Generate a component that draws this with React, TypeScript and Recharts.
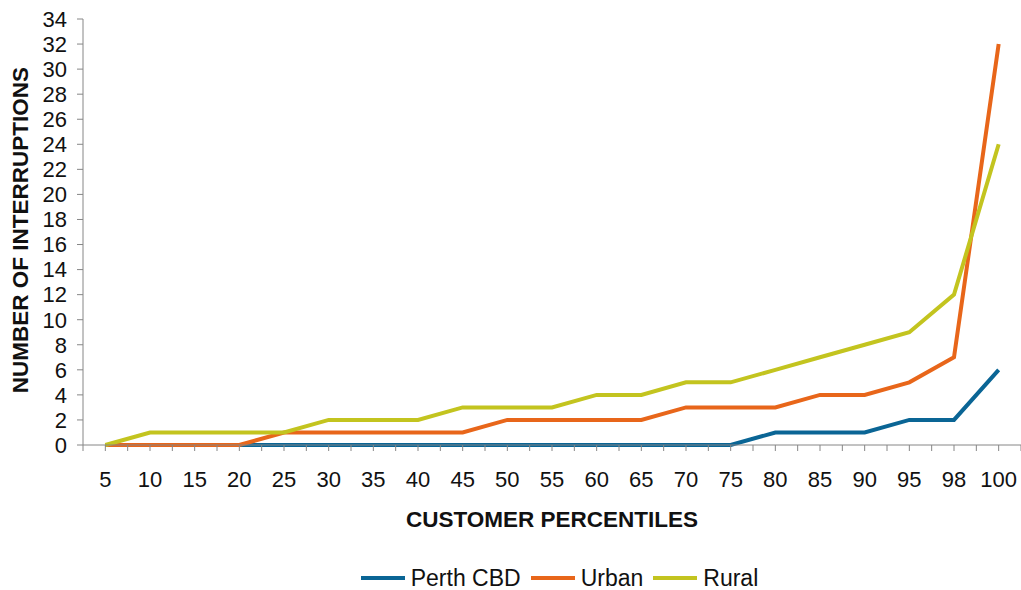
import { LineChart, Line, XAxis, YAxis, Legend } from 'recharts';

const percentiles = ['5', '10', '15', '20', '25', '30', '35', '40', '45', '50', '55', '60', '65', '70', '75', '80', '85', '90', '95', '98', '100'];
const perthCbd = [0, 0, 0, 0, 0, 0, 0, 0, 0, 0, 0, 0, 0, 0, 0, 1, 1, 1, 2, 2, 6];
const urban = [0, 0, 0, 0, 1, 1, 1, 1, 1, 2, 2, 2, 2, 3, 3, 3, 4, 4, 5, 7, 32];
const rural = [0, 1, 1, 1, 1, 2, 2, 2, 3, 3, 3, 4, 4, 5, 5, 6, 7, 8, 9, 12, 24];
const yTicks = [0, 2, 4, 6, 8, 10, 12, 14, 16, 18, 20, 22, 24, 26, 28, 30, 32, 34];

const series = [
  { key: 'perth', name: 'Perth CBD', color: '#0a6595' },
  { key: 'urban', name: 'Urban', color: '#e8661a' },
  { key: 'rural', name: 'Rural', color: '#c3c41f' },
];

const data = percentiles.map((p, i) => ({
  pct: p,
  perth: perthCbd[i],
  urban: urban[i],
  rural: rural[i],
}));

const FONT = 'Arial, "Liberation Sans", Helvetica, sans-serif';
const AXIS = '#868686';
const WIDTH = 1021;
const HEIGHT = 590;
const MARGIN = { top: 19, right: 0, bottom: 0, left: 0 };
const Y_WIDTH = 83;
const TICK_SIZE = 6;
const TICK_MARGIN = 20;
const HALF_BAND = (WIDTH - MARGIN.left - MARGIN.right - Y_WIDTH) / percentiles.length / 2;

function XTick(props: any) {
  const { x, y, payload, index } = props;
  const axisY = y - TICK_SIZE - TICK_MARGIN;
  return (
    <g>
      <line x1={x - HALF_BAND} x2={x - HALF_BAND} y1={axisY} y2={axisY + TICK_SIZE} stroke={AXIS} />
      {index === percentiles.length - 1 && (
        <line x1={x + HALF_BAND} x2={x + HALF_BAND} y1={axisY} y2={axisY + TICK_SIZE} stroke={AXIS} />
      )}
      <text x={x} y={axisY + 42} textAnchor="middle" fontSize={22} fill="#111" fontFamily={FONT}>
        {payload.value}
      </text>
    </g>
  );
}

function LegendContent() {
  return (
    <div style={{ display: 'flex', justifyContent: 'center', alignItems: 'center', height: 24, paddingLeft: 108, fontFamily: FONT, fontSize: 23, color: '#111' }}>
      {series.map((s) => (
        <div key={s.key} style={{ display: 'flex', alignItems: 'center', marginRight: 10 }}>
          <div style={{ width: 44, height: 4, background: s.color, marginRight: 6 }} />
          <span>{s.name}</span>
        </div>
      ))}
    </div>
  );
}

export default function App() {
  return (
    <div style={{ position: 'absolute', left: 0, top: 0, background: '#fff' }}>
      <LineChart width={WIDTH} height={HEIGHT} data={data} margin={MARGIN}>
        <XAxis
          dataKey="pct"
          height={121}
          stroke={AXIS}
          tickSize={TICK_SIZE}
          tickMargin={TICK_MARGIN}
          interval={0}
          padding={{ left: HALF_BAND, right: HALF_BAND }}
          tick={<XTick />}
          label={{
            content: (p: any) => (
              <text
                x={p.viewBox.x + p.viewBox.width / 2}
                y={p.viewBox.y + 82}
                textAnchor="middle"
                fontSize={22.5}
                fontWeight="bold"
                fill="#111"
                fontFamily={FONT}
              >
                CUSTOMER PERCENTILES
              </text>
            ),
          }}
        />
        <YAxis
          width={Y_WIDTH}
          domain={[0, 34]}
          ticks={yTicks}
          interval={0}
          stroke={AXIS}
          tickSize={TICK_SIZE}
          tickMargin={10}
          tick={{ fontSize: 22, fill: '#111', fontFamily: FONT }}
          label={{
            content: () => (
              <text
                x={28}
                y={230}
                transform="rotate(-90, 28, 230)"
                textAnchor="middle"
                fontSize={22.5}
                fontWeight="bold"
                fill="#111"
                fontFamily={FONT}
              >
                NUMBER OF INTERRUPTIONS
              </text>
            ),
          }}
        />
        <Legend verticalAlign="bottom" height={24} content={<LegendContent />} />
        {series.map((s) => (
          <Line
            key={s.key}
            type="linear"
            dataKey={s.key}
            name={s.name}
            stroke={s.color}
            strokeWidth={4}
            dot={false}
            activeDot={false}
            isAnimationActive={false}
          />
        ))}
      </LineChart>
    </div>
  );
}
